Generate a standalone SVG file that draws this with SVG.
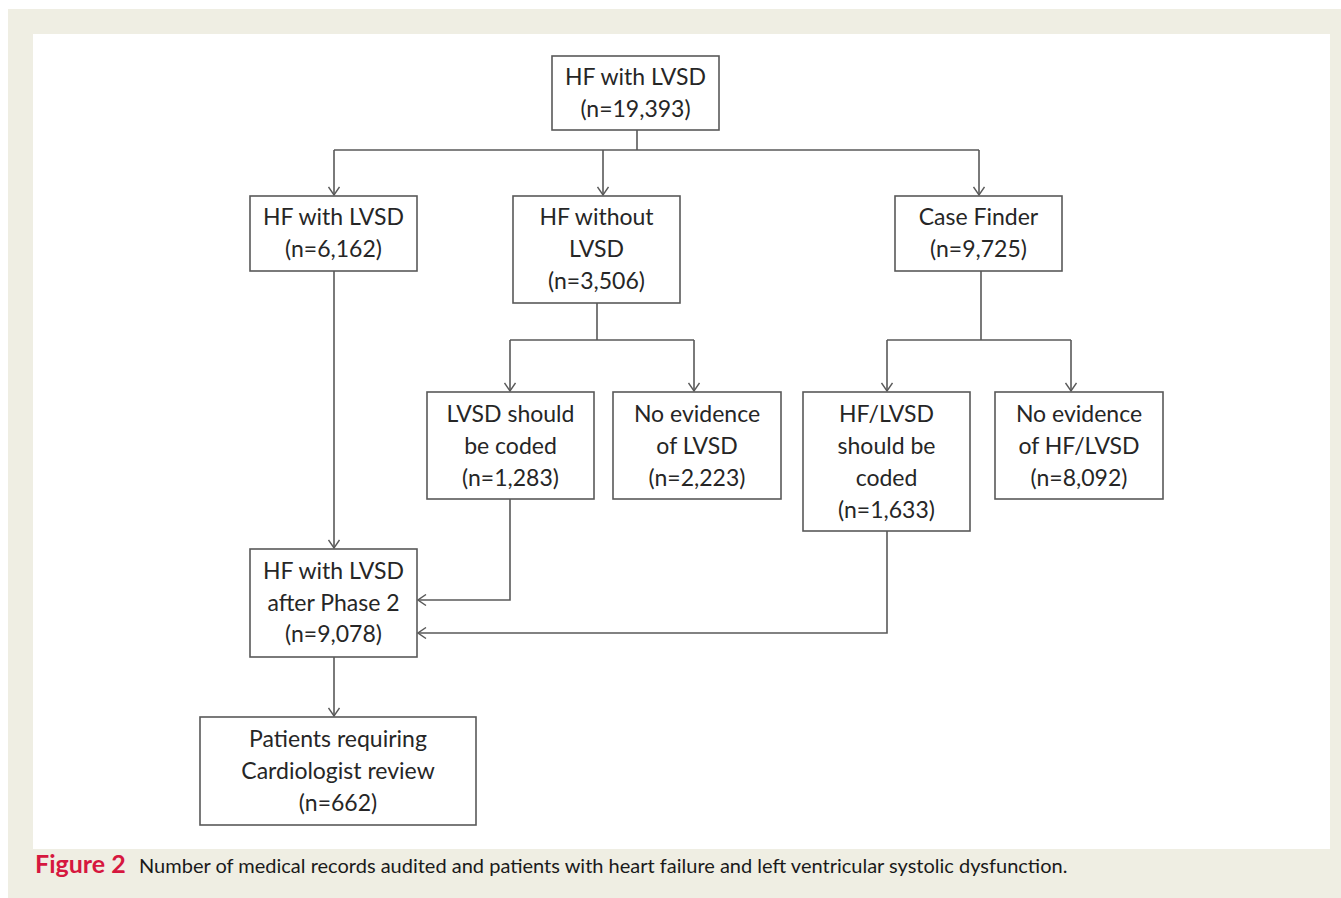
<svg xmlns="http://www.w3.org/2000/svg" width="1341" height="898" viewBox="0 0 1341 898">
<style>
.box{fill:#fff;stroke:#595959;stroke-width:1.6}
.t{font-family:Lato,"Open Sans","Liberation Sans",sans-serif;font-size:23px;fill:#262626;text-anchor:middle}
.c{fill:none;stroke:#595959;stroke-width:1.6}
.cap{font-family:Lato,"Liberation Sans",sans-serif;font-size:20px;fill:#1a1a1a}
.fig{font-weight:bold;fill:#d6173f;font-size:25px}
</style>
<defs>
<marker id="ah" viewBox="0 0 12 12" refX="11" refY="6" markerWidth="12" markerHeight="12" markerUnits="userSpaceOnUse" orient="auto">
<path d="M3,0.5 L11,6 L3,11.5" fill="none" stroke="#595959" stroke-width="1.4"/>
</marker>
</defs>
<rect x="0" y="0" width="1341" height="898" fill="#fff"/>
<rect x="8" y="9" width="1333" height="889" fill="#efeee3"/>
<rect x="33" y="34" width="1297" height="815" fill="#fff"/>

<g id="connectors">
<path class="c" d="M637,130 V150 M334,150 H979"/>
<path class="c" d="M334,150 V195" marker-end="url(#ah)"/>
<path class="c" d="M603,150 V195" marker-end="url(#ah)"/>
<path class="c" d="M979,150 V195" marker-end="url(#ah)"/>
<path class="c" d="M597,303 V340 M510,340 H694"/>
<path class="c" d="M510,340 V391" marker-end="url(#ah)"/>
<path class="c" d="M694,340 V391" marker-end="url(#ah)"/>
<path class="c" d="M981,271 V340 M887,340 H1071"/>
<path class="c" d="M887,340 V391" marker-end="url(#ah)"/>
<path class="c" d="M1071,340 V391" marker-end="url(#ah)"/>
<path class="c" d="M334,271 V548" marker-end="url(#ah)"/>
<path class="c" d="M510,499 V600 H418" marker-end="url(#ah)"/>
<path class="c" d="M887,531 V633 H418" marker-end="url(#ah)"/>
<path class="c" d="M334,657 V716" marker-end="url(#ah)"/>
</g>

<g id="n_top"><rect class="box" x="552" y="56" width="167" height="74"/>
<text class="t" x="635.5" y="85">HF with LVSD</text><text class="t" x="635.5" y="117">(n=19,393)</text></g>

<g id="n_hf_lvsd"><rect class="box" x="250" y="196" width="167" height="75"/>
<text class="t" x="333.5" y="225">HF with LVSD</text><text class="t" x="333.5" y="257">(n=6,162)</text></g>

<g id="n_hf_without"><rect class="box" x="513" y="196" width="167" height="107"/>
<text class="t" x="596.5" y="225">HF without</text><text class="t" x="596.5" y="257">LVSD</text><text class="t" x="596.5" y="289">(n=3,506)</text></g>

<g id="n_casefinder"><rect class="box" x="895" y="196" width="167" height="75"/>
<text class="t" x="978.5" y="225">Case Finder</text><text class="t" x="978.5" y="257">(n=9,725)</text></g>

<g id="n_lvsd_coded"><rect class="box" x="427" y="392" width="167" height="107"/>
<text class="t" x="510.5" y="422">LVSD should</text><text class="t" x="510.5" y="454">be coded</text><text class="t" x="510.5" y="486">(n=1,283)</text></g>

<g id="n_no_lvsd"><rect class="box" x="613" y="392" width="168" height="107"/>
<text class="t" x="697" y="422">No evidence</text><text class="t" x="697" y="454">of LVSD</text><text class="t" x="697" y="486">(n=2,223)</text></g>

<g id="n_hflvsd_coded"><rect class="box" x="803" y="392" width="167" height="139"/>
<text class="t" x="886.5" y="422">HF/LVSD</text><text class="t" x="886.5" y="454">should be</text><text class="t" x="886.5" y="486">coded</text><text class="t" x="886.5" y="518">(n=1,633)</text></g>

<g id="n_no_hflvsd"><rect class="box" x="995" y="392" width="168" height="107"/>
<text class="t" x="1079" y="422">No evidence</text><text class="t" x="1079" y="454">of HF/LVSD</text><text class="t" x="1079" y="486">(n=8,092)</text></g>

<g id="n_phase2"><rect class="box" x="250" y="549" width="167" height="108"/>
<text class="t" x="333.5" y="579">HF with LVSD</text><text class="t" x="333.5" y="611">after Phase 2</text><text class="t" x="333.5" y="642">(n=9,078)</text></g>

<g id="n_patients"><rect class="box" x="200" y="717" width="276" height="108"/>
<text class="t" x="338" y="747">Patients requiring</text><text class="t" x="338" y="779">Cardiologist review</text><text class="t" x="338" y="811">(n=662)</text></g>

<text class="cap" x="35" y="873"><tspan class="fig">Figure 2</tspan><tspan x="139">Number of medical records audited and patients with heart failure and left ventricular systolic dysfunction.</tspan></text>
</svg>
